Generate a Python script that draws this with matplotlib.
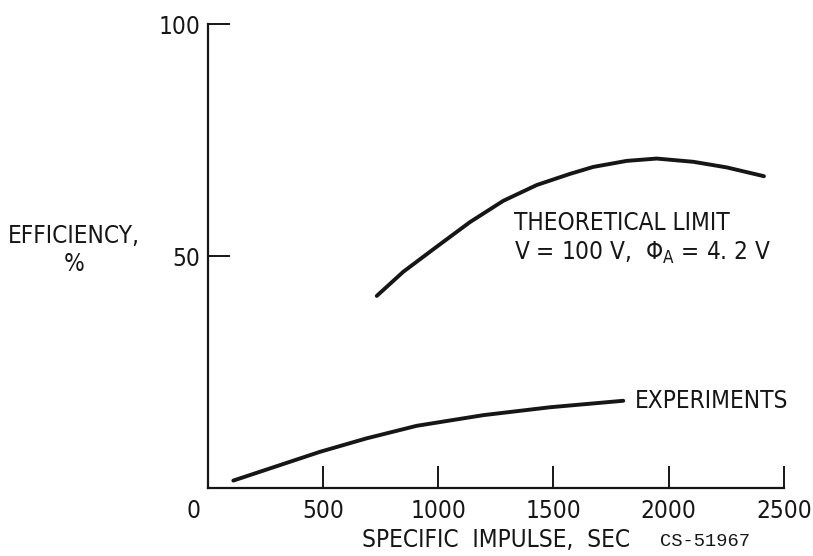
import matplotlib
matplotlib.use('Agg')
import matplotlib.pyplot as plt
import matplotlib.transforms as mtransforms

plt.rcParams['font.family'] = ['DejaVu Sans']
plt.rcParams['font.stretch'] = 'condensed'
plt.rcParams['mathtext.fontset'] = 'dejavusans'

# specific impulse (sec) vs efficiency (%)
isp_theory = [734, 849, 994, 1138, 1283, 1428, 1572, 1673, 1818, 1948, 2107, 2251, 2413]
eff_theory = [41.4, 46.6, 52.0, 57.3, 61.9, 65.3, 67.7, 69.2, 70.5, 71.0, 70.3, 69.1, 67.2]

isp_exp = [112, 488, 690, 907, 1196, 1485, 1803]
eff_exp = [1.6, 7.8, 10.7, 13.4, 15.7, 17.4, 18.8]

x_ticks = [0, 500, 1000, 1500, 2000, 2500]
y_ticks = [50, 100]

ink = '#161616'
fs = 17.5

fig = plt.figure(figsize=(8.13, 5.56), dpi=100)
ax = fig.add_axes([207.5 / 813, 68 / 556, 576.5 / 813, 464 / 556])

ax.plot(isp_theory, eff_theory, color=ink, lw=2.8, solid_capstyle='round',
        solid_joinstyle='round')
ax.plot(isp_exp, eff_exp, color=ink, lw=2.8, solid_capstyle='round',
        solid_joinstyle='round')

ax.set_xlim(0, 2500)
ax.set_ylim(0, 100)
for side in ['top', 'right']:
    ax.spines[side].set_visible(False)
for side in ['left', 'bottom']:
    ax.spines[side].set_linewidth(1.6)
    ax.spines[side].set_color(ink)

ax.set_xticks(x_ticks)
ax.set_xticklabels([str(v) for v in x_ticks])
ax.set_yticks(y_ticks)
ax.set_yticklabels([str(v) for v in y_ticks])
ax.tick_params(axis='x', direction='in', length=16, width=1.4, color=ink,
               labelsize=fs, pad=8, labelcolor=ink)
ax.tick_params(axis='y', direction='in', length=16, width=1.4, color=ink,
               labelsize=fs, pad=5, labelcolor=ink)

# the origin label sits left of the corner, without a tick mark
t0 = ax.xaxis.get_major_ticks()[0]
t0.tick1line.set_visible(False)
t0.label1.set_transform(t0.label1.get_transform() +
                        mtransforms.ScaledTranslation(-14 / 100, 0, fig.dpi_scale_trans))

ax.set_xlabel('SPECIFIC  IMPULSE,  SEC', fontsize=fs, color=ink)
ax.xaxis.set_label_coords(0.501, -0.112)
ax.xaxis.label.set_va('center')

ax.set_ylabel('EFFICIENCY,\n%', fontsize=fs, rotation=0, color=ink,
              ha='center', va='center', multialignment='center', linespacing=1.25)
ax.yaxis.set_label_coords(-0.232, 0.513)

ax.text(1329, 55.6, 'THEORETICAL LIMIT', fontsize=fs, color=ink, va='baseline')
ax.text(1329, 49.1, r'V = 100 V,  $\Phi_{\mathrm{A}}$ = 4. 2 V', fontsize=fs,
        color=ink, va='baseline')
ax.text(1854, 17.2, 'EXPERIMENTS', fontsize=fs, color=ink, va='baseline')

fig.text(660 / 813, 10 / 556, 'CS-51967', fontsize=13.5, color=ink,
         family=['Liberation Mono', 'DejaVu Sans Mono'], stretch='normal',
         va='baseline')

fig.savefig('out.png', dpi=100)
